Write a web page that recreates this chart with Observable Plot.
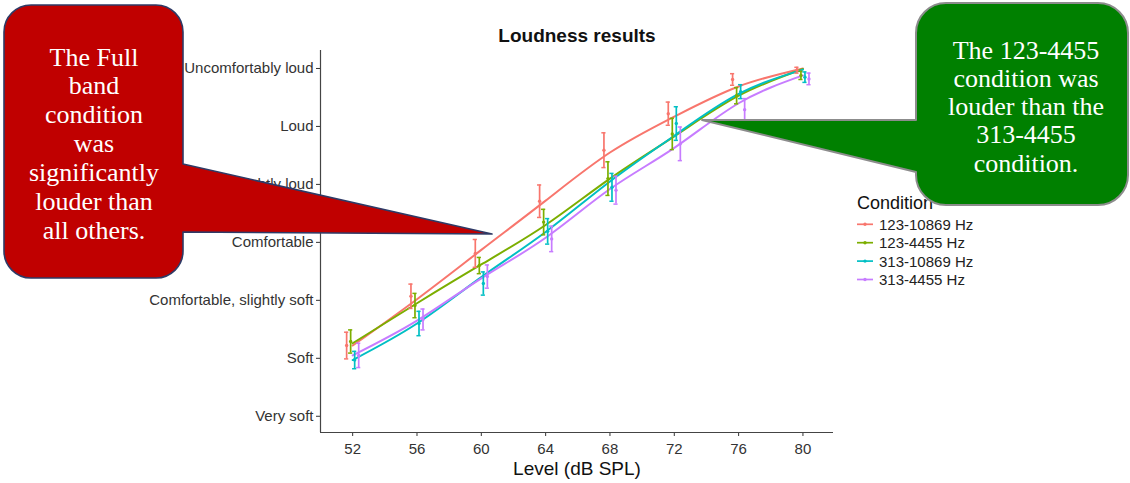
<!DOCTYPE html>
<html>
<head>
<meta charset="utf-8">
<script src="https://cdn.jsdelivr.net/npm/d3@7"></script>
<script src="https://cdn.jsdelivr.net/npm/@observablehq/plot@0.6"></script>
<style>
  html, body { margin: 0; padding: 0; background: #fff; }
  #wrap { position: relative; width: 1130px; height: 483px; overflow: hidden; background: #fff; }
  #wrap > svg { position: absolute; left: 0; top: 0; }
</style>
</head>
<body>
<div id="wrap"></div>
<script>
// ---- data ----
const levels = [52, 56, 60, 64, 68, 72, 76, 80];
const conditions = ["123-10869 Hz", "123-4455 Hz", "313-10869 Hz", "313-4455 Hz"];
const yLabels = ["Very soft", "Soft", "Comfortable, slightly soft", "Comfortable",
                 "Comfortable, slightly loud", "Loud", "Uncomfortably loud"];

// mean ratings (1 = Very soft ... 7 = Uncomfortably loud)
const mean_123_10869 = [2.22, 3.07, 3.81, 4.71, 5.59, 6.22, 6.81, 6.97];
const mean_123_4455  = [2.29, 2.91, 3.60, 4.35, 5.10, 5.87, 6.53, 6.88];
const mean_313_10869 = [1.97, 2.60, 3.29, 4.19, 4.95, 6.05, 6.60, 6.85];
const mean_313_4455  = [2.05, 2.67, 3.41, 4.06, 4.90, 5.70, 6.29, 6.82];

// error bar half-lengths
const err_123_10869 = [0.23, 0.21, 0.24, 0.28, 0.30, 0.20, 0.10, 0.05];
const err_123_4455  = [0.20, 0.21, 0.14, 0.22, 0.29, 0.27, 0.14, 0.07];
const err_313_10869 = [0.15, 0.21, 0.20, 0.22, 0.24, 0.29, 0.12, 0.09];
const err_313_4455  = [0.21, 0.18, 0.20, 0.22, 0.24, 0.29, 0.19, 0.10];

// fitted curves
const fit_123_10869 = [2.22, 3.02, 3.87, 4.72, 5.55, 6.17, 6.69, 7.00];
const fit_123_4455  = [2.26, 2.95, 3.62, 4.30, 5.10, 5.83, 6.53, 6.99];
const fit_313_10869 = [1.97, 2.60, 3.40, 4.18, 5.05, 5.84, 6.56, 6.98];
const fit_313_4455  = [2.05, 2.65, 3.38, 4.08, 4.92, 5.63, 6.40, 6.88];

// ---- build table ----
const means = [mean_123_10869, mean_123_4455, mean_313_10869, mean_313_4455];
const errs  = [err_123_10869, err_123_4455, err_313_10869, err_313_4455];
const fits  = [fit_123_10869, fit_123_4455, fit_313_10869, fit_313_4455];
const dodge = [-0.375, -0.125, 0.125, 0.375];
const rows = [];
conditions.forEach((c, k) => {
  levels.forEach((lv, i) => {
    rows.push({cond: c, level: lv, xd: lv + dodge[k], mean: means[k][i],
               lo: means[k][i] - errs[k][i], hi: means[k][i] + errs[k][i], fit: fits[k][i]});
  });
});
const palette = ["#F8766D", "#7CAE00", "#00BFC4", "#C77CFF"];

const chart = Plot.plot({
  width: 1130, height: 483,
  marginLeft: 320, marginRight: 297, marginTop: 50, marginBottom: 51,
  x: {domain: [50, 81.9]},
  y: {domain: [0.72, 7.31]},
  color: {domain: conditions, range: palette},
  style: {fontFamily: "'Liberation Sans', Arial, sans-serif", fontSize: "15px", background: "transparent", overflow: "visible"},
  marks: [
    Plot.axisX({ticks: levels, tickSize: 4, tickPadding: 7, label: null, color: "#333", fontSize: 15}),
    Plot.axisY({ticks: [1, 2, 3, 4, 5, 6, 7], tickFormat: d => yLabels[d - 1], tickSize: 4, tickPadding: 3,
                label: null, color: "#333", fontSize: 15}),
    Plot.ruleX([50], {stroke: "#444", strokeWidth: 1.2}),
    Plot.ruleY([0.72], {stroke: "#444", strokeWidth: 1.2}),
    Plot.line(rows, {x: "level", y: "fit", z: "cond", stroke: "cond", curve: "natural", strokeWidth: 2}),
    Plot.ruleX(rows, {x: "xd", y1: "lo", y2: "hi", stroke: "cond", strokeWidth: 1.7}),
    Plot.ruleY(rows, {y: "hi", x1: d => d.xd - 0.13, x2: d => d.xd + 0.13, stroke: "cond", strokeWidth: 1.5}),
    Plot.ruleY(rows, {y: "lo", x1: d => d.xd - 0.13, x2: d => d.xd + 0.13, stroke: "cond", strokeWidth: 1.5}),
    Plot.dot(rows, {x: "xd", y: "mean", fill: "cond", r: 1.7}),
    Plot.text(["Loudness results"], {frameAnchor: "top", lineAnchor: "middle", dy: -15, fontWeight: "bold", fontSize: 19, fill: "#111"}),
    Plot.text(["Level (dB SPL)"], {frameAnchor: "bottom", lineAnchor: "middle", dy: 36, fontSize: 19, fill: "#111"})
  ]
});
document.getElementById("wrap").appendChild(chart);

// ---- overlay: legend and callouts ----
const ov = d3.select("#wrap").append("svg")
  .attr("width", 1130).attr("height", 483)
  .style("pointer-events", "none");

const lg = ov.append("g").attr("font-family", "'Liberation Sans', Arial, sans-serif");
lg.append("text").attr("x", 857).attr("y", 203).attr("dominant-baseline", "central")
  .attr("font-size", 18).attr("fill", "#111").text("Condition");
conditions.forEach((c, k) => {
  const y = 224.3 + k * 18.4;
  lg.append("line").attr("x1", 857).attr("x2", 873).attr("y1", y).attr("y2", y)
    .attr("stroke", palette[k]).attr("stroke-width", 1.7);
  lg.append("circle").attr("cx", 865).attr("cy", y).attr("r", 1.7).attr("fill", palette[k]);
  lg.append("text").attr("x", 879).attr("y", y).attr("dominant-baseline", "central")
    .attr("font-size", 15).attr("fill", "#222").text(c);
});

// red callout
ov.append("path")
  .attr("d", "M31,5 H156 A27,27 0 0 1 183,32 V164 L492,234 L183,232 V251 A27,27 0 0 1 156,278 H31 A27,27 0 0 1 4,251 V32 A27,27 0 0 1 31,5 Z")
  .attr("fill", "#C00000").attr("stroke", "#2E3A66").attr("stroke-width", 1.6).attr("stroke-linejoin", "round");
const redLines = ["The Full", "band", "condition", "was", "significantly", "louder than", "all others."];
const rt = ov.append("g").attr("font-family", "'Liberation Serif', 'Times New Roman', serif")
  .attr("font-size", 26).attr("fill", "#fff").attr("text-anchor", "middle");
redLines.forEach((t, i) => {
  rt.append("text").attr("x", 94).attr("y", 57 + i * 28.9).attr("dominant-baseline", "central").text(t);
});

// green callout
ov.append("path")
  .attr("d", "M946,3 H1098 A30,30 0 0 1 1128,33 V175 A30,30 0 0 1 1098,205 H946 A30,30 0 0 1 916,175 V172 L702,120 L916,120 V33 A30,30 0 0 1 946,3 Z")
  .attr("fill", "#008000").attr("stroke", "#8C8C8C").attr("stroke-width", 2).attr("stroke-linejoin", "round");
const greenLines = ["The 123-4455", "condition was", "louder than the", "313-4455", "condition."];
const gt = ov.append("g").attr("font-family", "'Liberation Serif', 'Times New Roman', serif")
  .attr("font-size", 26).attr("fill", "#fff").attr("text-anchor", "middle");
greenLines.forEach((t, i) => {
  gt.append("text").attr("x", 1026).attr("y", 50 + i * 28.3).attr("dominant-baseline", "central").text(t);
});
</script>
</body>
</html>
